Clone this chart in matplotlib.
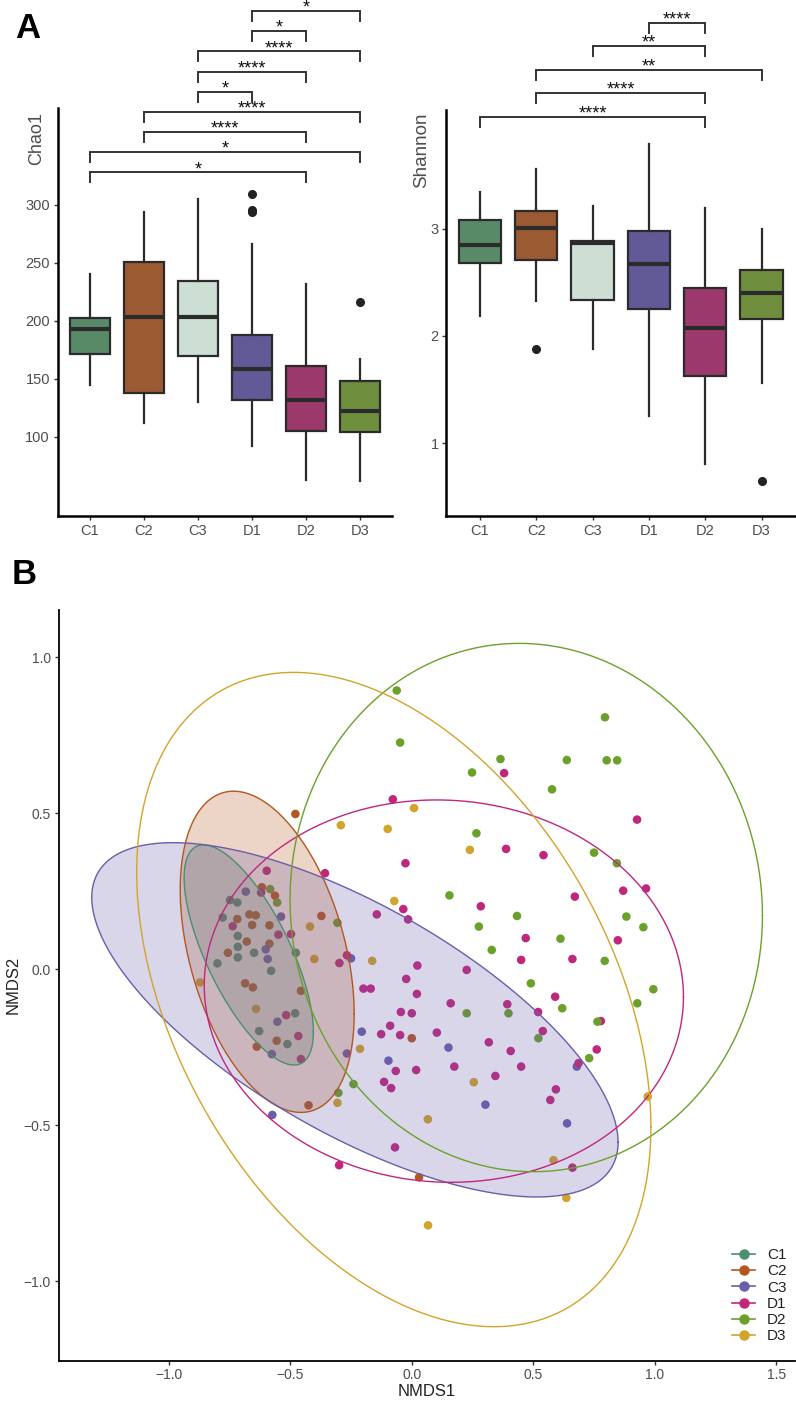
import numpy as np
import matplotlib
matplotlib.use("Agg")
import matplotlib.pyplot as plt
from matplotlib.lines import Line2D
from matplotlib.patches import Polygon

plt.rcParams["font.family"] = ["Liberation Sans", "DejaVu Sans"]

groups = ["C1", "C2", "C3", "D1", "D2", "D3"]

# ---- panel A: box summaries ----
chao_whislo = [145, 112, 130, 92, 63, 62]
chao_q1 = [171, 138, 170, 132, 105, 104]
chao_med = [193, 203, 203, 158, 132, 122]
chao_q3 = [202, 251, 234, 188, 161, 148]
chao_whishi = [240, 294, 305, 266, 232, 167]
chao_fliers = [[], [], [], [309, 296, 294], [], [216]]

shan_whislo = [2.19, 2.33, 1.88, 1.25, 0.81, 1.56]
shan_q1 = [2.68, 2.71, 2.34, 2.25, 1.63, 2.16]
shan_med = [2.85, 3.01, 2.87, 2.67, 2.07, 2.40]
shan_q3 = [3.08, 3.17, 2.89, 2.98, 2.45, 2.62]
shan_whishi = [3.34, 3.56, 3.21, 3.79, 3.19, 3.00]
shan_fliers = [[], [1.88], [], [], [], [0.645]]

chao_pairs = [("C1", "D2"), ("C1", "D3"), ("C2", "D2"), ("C2", "D3"), ("C3", "D1"),
              ("C3", "D2"), ("C3", "D3"), ("D1", "D2"), ("D1", "D3")]
chao_signif = ["*", "*", "****", "****", "*", "****", "****", "*", "*"]
shan_pairs = [("C1", "D2"), ("C2", "D2"), ("C2", "D3"), ("C3", "D2"), ("D1", "D2")]
shan_signif = ["****", "****", "**", "**", "****"]

box_colors = ["#588a68", "#9b5a32", "#cddfd5", "#625a96", "#9b396d", "#708f3e"]

# ---- panel B: NMDS scores ----
c1_x = [-0.748, -0.718, -0.778, -0.716, -0.716, -0.649, -0.716, -0.477, -0.800, -0.579, -0.480, -0.628, -0.512]
c1_y = [0.222, 0.214, 0.166, 0.107, 0.072, 0.053, 0.038, 0.053, 0.019, -0.005, -0.141, -0.198, -0.240]
c2_x = [-0.479, -0.617, -0.563, -0.668, -0.642, -0.718, -0.372, -0.657, -0.586, -0.679, -0.586, -0.757,
        -0.686, -0.654, -0.456, -0.556, -0.638, -0.425, 0.000, 0.030]
c2_y = [0.498, 0.263, 0.236, 0.176, 0.173, 0.161, 0.171, 0.142, 0.141, 0.089, 0.082, 0.053,
        -0.045, -0.058, -0.069, -0.229, -0.248, -0.436, -0.221, -0.667]
c3_x = [-0.683, -0.538, -0.601, -0.593, -0.250, -0.553, -0.206, -0.576, -0.267, -0.096, -0.574, 0.151,
        0.679, 0.303, 0.639]
c3_y = [0.249, 0.169, 0.064, 0.033, 0.035, -0.168, -0.200, -0.272, -0.270, -0.293, -0.467, -0.251,
        -0.312, -0.434, -0.494]
d1_x = [-0.078, -0.357, -0.144, -0.597, -0.620, -0.737, -0.549, -0.497, -0.267, -0.298, -0.199, -0.169,
        -0.517, -0.126, -0.089, -0.048, -0.045, -0.467, -0.456, -0.066, -0.114, -0.085, -0.069, -0.299,
        0.450, 0.661, 0.023, 0.226, -0.023, 0.021, 0.590, 0.160, 0.393, 0.000, 0.520, 0.778, 0.103,
        0.539, 0.317, 0.407, 0.761, 0.686, 0.018, 0.175, 0.450, 0.344, 0.593, 0.570, 0.661,
        0.380, 0.927, 0.388, 0.542, -0.026, 0.671, 0.870, 0.964, 0.284, -0.035, -0.015, 0.469, 0.848]
d1_y = [0.545, 0.308, 0.176, 0.316, 0.246, 0.138, 0.111, 0.113, 0.045, 0.020, -0.062, -0.062,
        -0.147, -0.208, -0.181, -0.211, -0.137, -0.214, -0.288, -0.326, -0.361, -0.381, -0.571, -0.628,
        0.030, 0.033, 0.012, -0.002, -0.031, -0.079, -0.088, -0.109, -0.112, -0.141, -0.137, -0.166, -0.203,
        -0.198, -0.234, -0.262, -0.257, -0.301, -0.323, -0.312, -0.312, -0.342, -0.385, -0.419, -0.636,
        0.629, 0.480, 0.386, 0.366, 0.340, 0.233, 0.252, 0.259, 0.202, 0.193, 0.160, 0.100, 0.093]
d2_x = [-0.062, -0.048, -0.583, -0.554, -0.306, -0.240, -0.302, 0.329, 0.794, 0.490, 0.994, 0.928,
        0.619, 0.226, 0.398, 0.764, 0.521, 0.730, 0.795, 0.365, 0.638, 0.802, 0.845, 0.248, 0.577,
        0.266, 0.750, 0.844, 0.155, 0.276, 0.433, 0.883, 0.953, 0.612]
d2_y = [0.894, 0.727, 0.257, 0.214, 0.149, -0.368, -0.396, 0.062, 0.027, -0.045, -0.064, -0.109,
        -0.125, -0.141, -0.141, -0.168, -0.221, -0.285, 0.808, 0.674, 0.671, 0.670, 0.670, 0.631, 0.577,
        0.436, 0.374, 0.340, 0.237, 0.137, 0.171, 0.169, 0.135, 0.098]
d3_x = [-0.292, -0.099, -0.072, -0.419, -0.401, -0.163, -0.871, -0.641, -0.213, -0.306, 0.255, 0.971,
        0.066, 0.583, 0.636, 0.067, 0.009, 0.239]
d3_y = [0.462, 0.450, 0.219, 0.137, 0.033, 0.027, -0.042, -0.127, -0.255, -0.428, -0.362, -0.408,
        -0.481, -0.612, -0.733, -0.821, 0.517, 0.383]

nmds_x = [c1_x, c2_x, c3_x, d1_x, d2_x, d3_x]
nmds_y = [c1_y, c2_y, c3_y, d1_y, d2_y, d3_y]
nmds_colors = ["#4c8e6e", "#b4561f", "#6a5daa", "#c1267d", "#6ba12b", "#d3a42b"]

# 95% ellipses: centre, half-extent in x and y, correlation
ell_cx = [-0.671, -0.595, -0.234, 0.132, 0.471, -0.074]
ell_cy = [0.046, 0.056, -0.162, -0.070, 0.198, -0.097]
ell_hx = [0.266, 0.358, 1.083, 0.986, 0.972, 1.058]
ell_hy = [0.353, 0.515, 0.568, 0.613, 0.847, 1.049]
ell_r = [-0.70, -0.387, -0.691, -0.03, -0.03, -0.39]
ell_filled = [True, True, True, False, False, False]

TXT = "#4d4d4d"
fig = plt.figure(figsize=(7.96, 14.01), dpi=100)


def style_axes(ax, lw):
    for s in ["top", "right"]:
        ax.spines[s].set_visible(False)
    for s in ["left", "bottom"]:
        ax.spines[s].set_linewidth(lw)
        ax.spines[s].set_color("black")
    ax.tick_params(colors="#333333", labelcolor=TXT, labelsize=10.5, length=3, width=1.0, pad=2.5)


def draw_box_panel(ax, lo, q1, med, q3, hi, fliers, pairs, signif, base, step, tick):
    stats = []
    for i in range(6):
        stats.append(dict(whislo=lo[i], q1=q1[i], med=med[i], q3=q3[i], whishi=hi[i], fliers=fliers[i]))
    bp = ax.bxp(stats, positions=range(1, 7), widths=0.75, patch_artist=True, showcaps=False,
                boxprops=dict(linewidth=1.6, edgecolor="#2b2b2b"),
                whiskerprops=dict(linewidth=1.6, color="#2b2b2b"),
                medianprops=dict(linewidth=3.0, color="#2b2b2b", solid_capstyle="butt"),
                flierprops=dict(marker="o", markerfacecolor="#222222", markeredgecolor="#222222",
                                markersize=5.5))
    for patch, col in zip(bp["boxes"], box_colors):
        patch.set_facecolor(col)
    ax.set_xlim(0.4, 6.6)
    ax.set_xticks(range(1, 7))
    ax.set_xticklabels(groups)
    for i, ((a, b), lab) in enumerate(zip(pairs, signif)):
        xa, xb = groups.index(a) + 1, groups.index(b) + 1
        y = base + step * i
        ax.plot([xa, xa, xb, xb], [y - tick, y, y, y - tick], color="#333333", lw=1.4,
                clip_on=False, solid_joinstyle="miter")
        ax.annotate(lab, ((xa + xb) / 2, y), xytext=(0, -1.2), textcoords="offset points",
                    ha="center", va="baseline", fontsize=13, color="#111111", annotation_clip=False)


# ---- A left: Chao1 ----
ax1 = fig.add_axes([57.6 / 796, 1 - 516 / 1401, 334.8 / 796, 408 / 1401])
style_axes(ax1, 1.8)
draw_box_panel(ax1, chao_whislo, chao_q1, chao_med, chao_q3, chao_whishi, chao_fliers,
               chao_pairs, chao_signif, 328, 17.4, 8.6)
ax1.set_ylim(31.6, 383.6)
ax1.set_yticks([100, 150, 200, 250, 300])
ax1.set_ylabel("Chao1", fontsize=13, color=TXT)
ax1.yaxis.set_label_coords(-0.038, 0.926)

# ---- A right: Shannon ----
ax2 = fig.add_axes([446.2 / 796, 1 - 516 / 1401, 349.1 / 796, 406 / 1401])
style_axes(ax2, 1.8)
draw_box_panel(ax2, shan_whislo, shan_q1, shan_med, shan_q3, shan_whishi, shan_fliers,
               shan_pairs, shan_signif, 4.046, 0.219, 0.093)
ax2.set_ylim(0.321, 4.108)
ax2.set_yticks([1, 2, 3])
ax2.set_ylabel("Shannon", fontsize=13.5, color=TXT)
ax2.yaxis.set_label_coords(-0.045, 0.901)

# ---- B: NMDS ----
ax3 = fig.add_axes([58.7 / 796, 1 - 1360.7 / 1401, 736.3 / 796, 750.7 / 1401])
style_axes(ax3, 1.3)
ax3.tick_params(labelsize=10)
for xs, ys, col in zip(nmds_x, nmds_y, nmds_colors):
    ax3.scatter(xs, ys, s=38, color=col, edgecolors="none", zorder=2)
t = np.linspace(0, 2 * np.pi, 200)
for i in range(6):
    ex = ell_cx[i] + ell_hx[i] * np.cos(t)
    ey = ell_cy[i] + ell_hy[i] * (ell_r[i] * np.cos(t) + np.sqrt(1 - ell_r[i] ** 2) * np.sin(t))
    if ell_filled[i]:
        ax3.add_patch(Polygon(np.column_stack([ex, ey]), closed=True, facecolor=nmds_colors[i],
                              alpha=0.25, edgecolor="none", zorder=3))
    ax3.plot(ex, ey, color=nmds_colors[i], lw=1.0, zorder=4)
ax3.set_xlim(-1.453, 1.577)
ax3.set_ylim(-1.255, 1.152)
ax3.set_xticks([-1.0, -0.5, 0.0, 0.5, 1.0, 1.5])
ax3.set_xticklabels(["\u22121.0", "\u22120.5", "0.0", "0.5", "1.0", "1.5"])
ax3.set_yticks([-1.0, -0.5, 0.0, 0.5, 1.0])
ax3.set_yticklabels(["\u22121.0", "\u22120.5", "0.0", "0.5", "1.0"])
ax3.set_xlabel("NMDS1", fontsize=12, color="#222222", labelpad=1)
ax3.set_ylabel("NMDS2", fontsize=12, color="#222222", labelpad=2)
handles = [Line2D([0], [0], color=c, marker="o", markersize=6.5, lw=1.2) for c in nmds_colors]
ax3.legend(handles, groups, loc="center left", bbox_to_anchor=(0.914, 0.0865), frameon=False,
           fontsize=11, handlelength=1.55, handletextpad=0.75, labelspacing=0.15,
           borderpad=0, borderaxespad=0, labelcolor="#222222")

fig.text(15 / 796, 1 - 38 / 1401, "A", fontsize=25, fontweight="bold", ha="left", va="baseline")
fig.text(12 / 796, 1 - 584 / 1401, "B", fontsize=25, fontweight="bold", ha="left", va="baseline")

fig.savefig("out.png", dpi=100)
